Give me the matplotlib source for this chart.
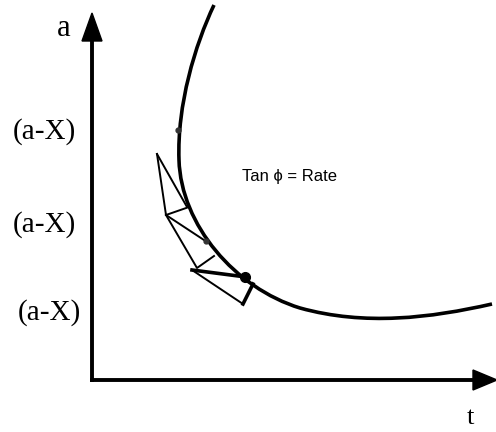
import matplotlib
matplotlib.use("Agg")
import matplotlib.pyplot as plt
from matplotlib.path import Path
from matplotlib.patches import PathPatch, Polygon

# ── Diagram geometry (pixel space, y downwards) ─────────────────────────────
origin = (92, 380)
y_axis_top = 13
x_axis_right = 497

# Bezier curve a(t): start, then (ctrl1, ctrl2, end) per segment
curve_start = (214, 5)
curve_segments = [
    ((195, 45), (177, 105), (179, 160)),
    ((181, 225), (235, 288), (300, 308)),
    ((365, 326), (430, 318), (492, 304)),
]

# tangent-triangle construction
thin_lines = [
    [(157, 154), (187, 207)],
    [(157, 154), (166, 215), (189, 207)],
    [(166, 215), (207, 242)],
    [(166, 215), (197, 268), (214, 256)],
    [(192, 270), (243, 304)],
]
thick_lines = [
    [(192, 270), (246, 277)],
    [(243, 304), (253, 284)],
]
dots_small = [(178, 130), (206, 241)]
dot_big = (245, 277)

y_labels = ["(a-X)", "(a-X)", "(a-X)"]
y_label_pos = [(44, 132), (44, 225), (49, 313)]

fig = plt.figure(figsize=(4.96, 4.32), dpi=100)
ax = fig.add_axes([0, 0, 1, 1])
ax.set_xlim(0, 496)
ax.set_ylim(432, 0)
ax.axis("off")

# ── axes arrows ──────────────────────────────────────────────────────────────
ax.plot([origin[0], origin[0]], [origin[1], y_axis_top + 20], color="black", lw=2.8,
        solid_capstyle="projecting")
ax.plot([origin[0], x_axis_right - 15], [origin[1], origin[1]], color="black", lw=2.8,
        solid_capstyle="projecting")
ax.add_patch(Polygon([(origin[0], y_axis_top), (origin[0] - 10, y_axis_top + 28),
                      (origin[0] + 10, y_axis_top + 28)], closed=True, color="black"))
ax.add_patch(Polygon([(x_axis_right, origin[1]), (x_axis_right - 24, origin[1] - 10),
                      (x_axis_right - 24, origin[1] + 10)], closed=True, color="black"))

# ── curve ────────────────────────────────────────────────────────────────────
verts = [curve_start]
codes = [Path.MOVETO]
for seg in curve_segments:
    verts.extend(seg)
    codes.extend([Path.CURVE4] * 3)
ax.add_patch(PathPatch(Path(verts, codes), fill=False, lw=2.6, edgecolor="black"))

# ── triangles ────────────────────────────────────────────────────────────────
for pts in thin_lines:
    xs, ys = zip(*pts)
    ax.plot(xs, ys, color="black", lw=1.4)
for pts in thick_lines:
    xs, ys = zip(*pts)
    ax.plot(xs, ys, color="black", lw=2.6)
for x, y in dots_small:
    ax.plot(x, y, "o", color="#333333", ms=3.5)
ax.plot(*dot_big, "o", color="black", ms=7)

# ── labels ───────────────────────────────────────────────────────────────────
serif = "Liberation Serif"
ax.text(64, 28, "a", fontsize=22, family=serif, ha="center", va="center")
for lbl, (x, y) in zip(y_labels, y_label_pos):
    ax.text(x, y, lbl, fontsize=21, family=serif, ha="center", va="center")
ax.text(470, 418, "t", fontsize=19, family=serif, ha="center", va="center")
ax.text(290, 177, "Tan \u03d5 = Rate", fontsize=12, family="Liberation Sans",
        ha="center", va="center")

fig.savefig("out.png", dpi=100)
